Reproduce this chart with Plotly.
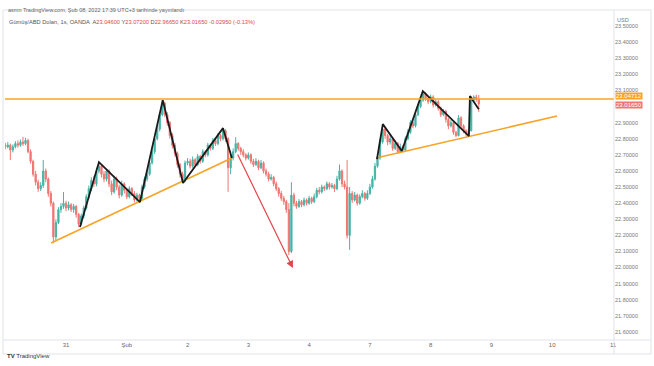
import plotly.graph_objects as go

# ---------------- data (hourly candles, index 0 = first candle) ----------------
opens = [22.760, 22.750, 22.760, 22.730, 22.750, 22.770, 22.760, 22.780, 22.770, 22.790,
         22.720, 22.660, 22.580, 22.530, 22.490, 22.510, 22.600, 22.550, 22.460, 22.400,
         22.190, 22.280, 22.360, 22.380, 22.400, 22.370, 22.390, 22.360, 22.380, 22.330,
         22.270, 22.320, 22.370, 22.440, 22.490, 22.540, 22.520, 22.600, 22.630, 22.580,
         22.550, 22.600, 22.520, 22.470, 22.550, 22.500, 22.450, 22.520, 22.480, 22.440,
         22.490, 22.460, 22.420, 22.450, 22.430, 22.500, 22.550, 22.580, 22.650, 22.720,
         22.800, 22.860, 22.950, 23.020, 22.950, 22.900, 22.820, 22.760, 22.710, 22.640,
         22.580, 22.540, 22.650, 22.660, 22.630, 22.670, 22.640, 22.690, 22.660, 22.720,
         22.700, 22.760, 22.740, 22.790, 22.770, 22.820, 22.800, 22.850, 22.800, 22.620,
         22.680, 22.720, 22.770, 22.740, 22.720, 22.700, 22.680, 22.700, 22.660, 22.640,
         22.660, 22.620, 22.650, 22.600, 22.580, 22.550, 22.560, 22.520, 22.490, 22.460,
         22.430, 22.410, 22.360, 22.100, 22.450, 22.400, 22.380, 22.410, 22.390, 22.420,
         22.400, 22.430, 22.410, 22.440, 22.480, 22.470, 22.500, 22.490, 22.520, 22.500,
         22.510, 22.490, 22.550, 22.600, 22.520, 22.500, 22.200, 22.460, 22.420, 22.450,
         22.400, 22.440, 22.460, 22.430, 22.460, 22.500, 22.550, 22.630, 22.680, 22.780,
         22.860, 22.820, 22.780, 22.800, 22.740, 22.770, 22.720, 22.750, 22.730, 22.800,
         22.840, 22.900, 22.880, 22.950, 23.000, 23.040, 23.080, 23.050, 23.030, 23.060,
         23.010, 23.030, 22.990, 22.950, 22.970, 22.920, 22.880, 22.900, 22.840, 22.820,
         22.930, 22.880, 22.850, 22.830, 22.850, 23.040, 23.060, 23.046]

highs = [22.775, 22.780, 22.770, 22.765, 22.785, 22.790, 22.795, 22.812, 22.805, 22.800,
         22.735, 22.670, 22.600, 22.545, 22.530, 22.668, 22.615, 22.560, 22.475, 22.410,
         22.300, 22.375, 22.400, 22.469, 22.415, 22.410, 22.400, 22.395, 22.390, 22.340,
         22.335, 22.385, 22.455, 22.510, 22.560, 22.570, 22.620, 22.655, 22.640, 22.600,
         22.615, 22.610, 22.540, 22.570, 22.565, 22.515, 22.540, 22.530, 22.495, 22.505,
         22.500, 22.475, 22.465, 22.460, 22.515, 22.565, 22.600, 22.670, 22.735, 22.815,
         22.880, 22.965, 23.040, 23.030, 22.965, 22.910, 22.835, 22.775, 22.720, 22.650,
         22.595, 22.665, 22.680, 22.675, 22.690, 22.680, 22.705, 22.700, 22.735, 22.730,
         22.775, 22.770, 22.805, 22.800, 22.835, 22.830, 22.866, 22.860, 22.810, 22.700,
         22.740, 22.810, 22.780, 22.750, 22.735, 22.710, 22.715, 22.710, 22.675, 22.680,
         22.670, 22.668, 22.660, 22.615, 22.595, 22.580, 22.570, 22.535, 22.500, 22.475,
         22.445, 22.420, 22.400, 22.530, 22.465, 22.415, 22.425, 22.420, 22.435, 22.430,
         22.445, 22.440, 22.460, 22.495, 22.500, 22.515, 22.510, 22.535, 22.530, 22.525,
         22.520, 22.570, 22.640, 22.610, 22.540, 22.668, 22.500, 22.475, 22.470, 22.460,
         22.455, 22.480, 22.470, 22.480, 22.520, 22.570, 22.650, 22.700, 22.800, 22.891,
         22.870, 22.830, 22.820, 22.810, 22.790, 22.780, 22.770, 22.760, 22.815, 22.860,
         22.915, 22.920, 22.965, 23.015, 23.060, 23.096, 23.090, 23.060, 23.075, 23.070,
         23.045, 23.040, 23.000, 22.985, 22.980, 22.930, 22.915, 22.910, 22.850, 22.947,
         22.940, 22.890, 22.860, 22.860, 23.065, 23.070, 23.075, 23.072]

lows = [22.735, 22.740, 22.668, 22.715, 22.740, 22.745, 22.750, 22.755, 22.760, 22.710,
        22.645, 22.565, 22.510, 22.470, 22.475, 22.495, 22.530, 22.440, 22.380, 22.152,
        22.170, 22.270, 22.340, 22.365, 22.350, 22.355, 22.345, 22.340, 22.310, 22.252,
        22.260, 22.305, 22.360, 22.425, 22.475, 22.500, 22.505, 22.585, 22.560, 22.530,
        22.535, 22.500, 22.450, 22.460, 22.480, 22.430, 22.440, 22.460, 22.425, 22.430,
        22.445, 22.405, 22.410, 22.405, 22.420, 22.490, 22.535, 22.570, 22.640, 22.705,
        22.790, 22.845, 22.940, 22.935, 22.880, 22.800, 22.740, 22.690, 22.620, 22.560,
        22.525, 22.530, 22.635, 22.615, 22.620, 22.625, 22.630, 22.645, 22.650, 22.685,
        22.690, 22.725, 22.730, 22.755, 22.760, 22.785, 22.790, 22.780, 22.470, 22.580,
        22.665, 22.710, 22.725, 22.700, 22.685, 22.665, 22.670, 22.645, 22.625, 22.630,
        22.605, 22.610, 22.585, 22.565, 22.535, 22.540, 22.505, 22.475, 22.440, 22.415,
        22.390, 22.340, 22.078, 22.090, 22.380, 22.365, 22.370, 22.375, 22.380, 22.385,
        22.390, 22.395, 22.400, 22.430, 22.455, 22.460, 22.475, 22.480, 22.485, 22.490,
        22.470, 22.480, 22.540, 22.500, 22.485, 22.180, 22.110, 22.400, 22.410, 22.385,
        22.390, 22.430, 22.415, 22.420, 22.450, 22.490, 22.540, 22.620, 22.670, 22.770,
        22.800, 22.760, 22.765, 22.725, 22.730, 22.705, 22.710, 22.715, 22.720, 22.790,
        22.830, 22.865, 22.870, 22.940, 22.990, 23.030, 23.035, 23.015, 23.020, 22.995,
        23.000, 22.975, 22.935, 22.940, 22.900, 22.860, 22.870, 22.825, 22.810, 22.815,
        22.865, 22.835, 22.815, 22.817, 22.845, 23.030, 23.030, 22.9665]

closes = [22.750, 22.760, 22.730, 22.750, 22.770, 22.760, 22.780, 22.770, 22.790, 22.720,
          22.660, 22.580, 22.530, 22.490, 22.510, 22.600, 22.550, 22.460, 22.400, 22.190,
          22.280, 22.360, 22.380, 22.400, 22.370, 22.390, 22.360, 22.380, 22.330, 22.270,
          22.320, 22.370, 22.440, 22.490, 22.540, 22.520, 22.600, 22.630, 22.580, 22.550,
          22.600, 22.520, 22.470, 22.550, 22.500, 22.450, 22.520, 22.480, 22.440, 22.490,
          22.460, 22.420, 22.450, 22.430, 22.500, 22.550, 22.580, 22.650, 22.720, 22.800,
          22.860, 22.950, 23.020, 22.950, 22.900, 22.820, 22.760, 22.710, 22.640, 22.580,
          22.540, 22.650, 22.660, 22.630, 22.670, 22.640, 22.690, 22.660, 22.720, 22.700,
          22.760, 22.740, 22.790, 22.770, 22.820, 22.800, 22.850, 22.800, 22.620, 22.680,
          22.720, 22.770, 22.740, 22.720, 22.700, 22.680, 22.700, 22.660, 22.640, 22.660,
          22.620, 22.650, 22.600, 22.580, 22.550, 22.560, 22.520, 22.490, 22.460, 22.430,
          22.410, 22.360, 22.100, 22.450, 22.400, 22.380, 22.410, 22.390, 22.420, 22.400,
          22.430, 22.410, 22.440, 22.480, 22.470, 22.500, 22.490, 22.520, 22.500, 22.510,
          22.490, 22.550, 22.600, 22.520, 22.500, 22.200, 22.460, 22.420, 22.450, 22.400,
          22.440, 22.460, 22.430, 22.460, 22.500, 22.550, 22.630, 22.680, 22.780, 22.860,
          22.820, 22.780, 22.800, 22.740, 22.770, 22.720, 22.750, 22.730, 22.800, 22.840,
          22.900, 22.880, 22.950, 23.000, 23.040, 23.080, 23.050, 23.030, 23.060, 23.010,
          23.030, 22.990, 22.950, 22.970, 22.920, 22.880, 22.900, 22.840, 22.820, 22.930,
          22.880, 22.850, 22.830, 22.850, 23.040, 23.060, 23.046, 23.0165]

# day tick positions (candle index) and labels
day_tick_pos = [24, 48, 72, 96, 120, 144, 168, 192, 216, 240]
day_tick_text = ["31", "Şub", "2", "3", "4", "7", "8", "9", "10", "11"]
price_ticks = [21.6, 21.7, 21.8, 21.9, 22.0, 22.1, 22.2, 22.3, 22.4, 22.5, 22.6, 22.7,
               22.8, 22.9, 23.1, 23.2, 23.3, 23.4, 23.5]

# drawings (candle index, price)
zigzag1_x = [29.5, 37.0, 53.2, 62.2, 70.2, 86.0, 89.5]
zigzag1_y = [22.252, 22.655, 22.407, 23.040, 22.525, 22.866, 22.680]
zigzag2_x = [146.8, 149.1, 156.6, 164.9, 183.1, 183.5, 187.0]
zigzag2_y = [22.674, 22.891, 22.724, 23.096, 22.817, 23.065, 22.984]
trend1_x = [18.1, 89.5]
trend1_y = [22.152, 22.680]
trend2_x = [146.4, 217.9]
trend2_y = [22.680, 22.941]
arrow_x = [91.5, 113.6]
arrow_y = [22.711, 21.997]
resistance_level = 23.04712
last_price = 23.01650

header1 = "asmn TradingView.com, Şub 08, 2022 17:39 UTC+3 tarihinde yayınlandı"
header2 = ("<span style='color:#555'>Gümüş/ABD Doları, 1s, OANDA  A</span>23.04600 "
           "<span style='color:#555'>Y</span>23.07200 <span style='color:#555'>D</span>22.96650 "
           "<span style='color:#555'>K</span>23.01650 -0.02950 (-0.13%)")

# ---------------- figure ----------------
W, H = 654, 366
L, R, T, B = 5, 40, 14, 26
pw, ph = W - L - R, H - T - B


def px(xp):
    return (xp - L) / pw


def py(yp):
    return (H - B - yp) / ph


UP, DOWN = "#45b4a7", "#f17571"
ORANGE = "#f7a325"
FONT = "Liberation Sans"

fig = go.Figure()
fig.add_trace(go.Candlestick(
    x=list(range(len(closes))), open=opens, high=highs, low=lows, close=closes,
    increasing=dict(line=dict(color=UP, width=1), fillcolor=UP),
    decreasing=dict(line=dict(color=DOWN, width=1), fillcolor=DOWN),
    whiskerwidth=0, showlegend=False, hoverinfo="skip"))

for xs, ys, col, wd in [(trend1_x, trend1_y, ORANGE, 1.6), (trend2_x, trend2_y, ORANGE, 1.6),
                        (zigzag1_x, zigzag1_y, "#1b1b1b", 1.8), (zigzag2_x, zigzag2_y, "#1b1b1b", 1.8)]:
    fig.add_trace(go.Scatter(x=xs, y=ys, mode="lines", line=dict(color=col, width=wd),
                             showlegend=False, hoverinfo="skip"))

fig.add_shape(type="line", xref="paper", yref="y", x0=0, x1=1,
              y0=resistance_level, y1=resistance_level, line=dict(color=ORANGE, width=1.5))

fig.add_annotation(x=arrow_x[1], y=arrow_y[1], ax=arrow_x[0], ay=arrow_y[0],
                   xref="x", yref="y", axref="x", ayref="y", text="", showarrow=True,
                   arrowhead=2, arrowsize=1.2, arrowwidth=1.2, arrowcolor="#e0474c")

# frame lines
frame = "#e0e3eb"
fig.add_shape(type="rect", xref="paper", yref="paper", x0=px(3), x1=px(651), y0=py(354), y1=py(10),
              line=dict(color=frame, width=1))
fig.add_shape(type="line", xref="paper", yref="paper", x0=1, x1=1, y0=py(354), y1=py(10),
              line=dict(color=frame, width=1))
fig.add_shape(type="line", xref="paper", yref="paper", x0=px(3), x1=px(651), y0=0, y1=0,
              line=dict(color=frame, width=1))

# price labels on axis
fig.add_annotation(xref="paper", yref="y", x=1, y=resistance_level, yshift=3, xanchor="left",
                   xshift=1, text="23.04712", showarrow=False, bgcolor=ORANGE,
                   font=dict(family=FONT, size=6, color="white"), borderpad=0)
fig.add_annotation(xref="paper", yref="y", x=1, y=last_price, yshift=-1, xanchor="left",
                   xshift=1, text="23.01650", showarrow=False, bgcolor=DOWN,
                   font=dict(family=FONT, size=6, color="white"), borderpad=0)
fig.add_annotation(xref="paper", yref="paper", x=px(631), y=py(15), text="USD", showarrow=False,
                   font=dict(family=FONT, size=5.5, color="#777"))

# headers
fig.add_annotation(xref="paper", yref="paper", x=px(6), y=py(5), xanchor="left", text=header1,
                   showarrow=False, font=dict(family=FONT, size=5.5, color="#666"))
fig.add_annotation(xref="paper", yref="paper", x=px(7), y=py(17), xanchor="left", text=header2,
                   showarrow=False, font=dict(family=FONT, size=5.7, color="#e04848"))
fig.add_annotation(xref="paper", yref="paper", x=px(5), y=py(361), xanchor="left",
                   text="<b>TV</b> TradingView", showarrow=False,
                   font=dict(family=FONT, size=6, color="#333"))

fig.update_layout(
    width=W, height=H, margin=dict(l=L, r=R, t=T, b=B),
    paper_bgcolor="white", plot_bgcolor="white",
    xaxis=dict(range=[-0.1, 240.4], tickvals=day_tick_pos, ticktext=day_tick_text,
               showgrid=False, zeroline=False, showline=False, ticks="",
               tickfont=dict(family=FONT, size=6, color="#666"),
               rangeslider=dict(visible=False), fixedrange=True),
    yaxis=dict(range=[21.55, 23.575], side="right", tickvals=price_ticks, tickformat=".5f",
               showgrid=False, zeroline=False, showline=False, ticks="",
               tickfont=dict(family=FONT, size=5.5, color="#777"), fixedrange=True),
    showlegend=False,
)

fig.write_html("out.html", config={"displayModeBar": False},
               post_script="document.body.style.margin='0px';")
